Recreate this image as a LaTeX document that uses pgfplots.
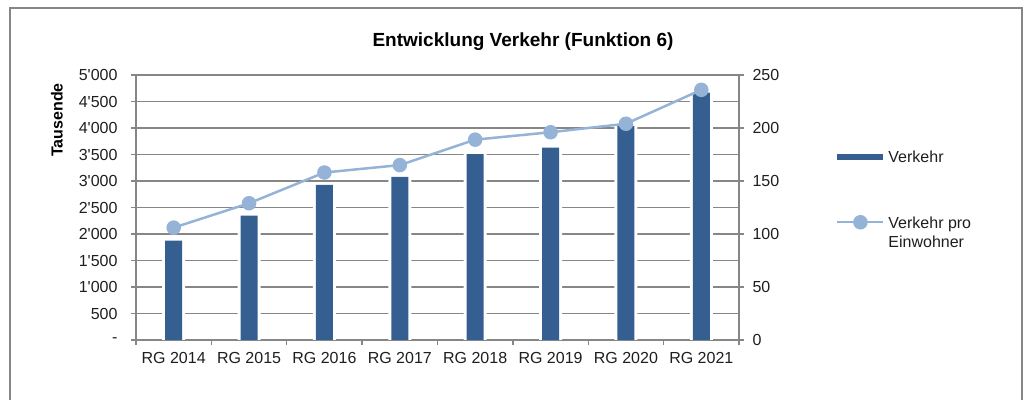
\documentclass[border=0pt]{standalone}
\usepackage{fontspec}
\setmainfont{Liberation Sans}
\usepackage{pgfplots}
\pgfplotsset{compat=1.18}
\definecolor{barblue}{RGB}{54,95,145}
\definecolor{lineblue}{RGB}{149,179,215}
\definecolor{gridgray}{RGB}{134,134,134}
\definecolor{textgray}{RGB}{30,30,30}
\def\q{\textquotesingle}
\pgfplotsset{
  layers/gridback/.define layer set={axis background,axis grid,main,axis ticks,axis lines,axis tick labels,axis descriptions,axis foreground}{},
  frame/.style={
    at={(136pt,60pt)}, anchor=south west,
    width=603pt, height=265pt, scale only axis,
    xmin=-0.5, xmax=7.5,
    tick align=outside, major tick length=5pt,
    axis line style={gridgray, line width=1.4pt},
    tick style={gridgray, line width=1.4pt},
    tick label style={font=\fontsize{16}{19}\selectfont, text=textgray},
    /pgf/number format/assume math mode=true,
    set layers=gridback,
    legend image code/.code={\draw[mark repeat=2,mark phase=2,##1] plot coordinates {(0pt,0pt)(23pt,0pt)(46pt,0pt)};},
  },
}

\begin{document}
\begin{tikzpicture}[x=1pt,y=1pt]
\draw[gridgray, line width=1.5pt] (10,0) -- (10,392) -- (1022,392) -- (1022,0);
\node[font=\fontsize{19}{22}\selectfont\bfseries, anchor=base] at (523,353) {Entwicklung Verkehr (Funktion 6)};
\node[font=\fontsize{16}{19}\selectfont\bfseries, rotate=90] at (57,280) {Tausende};

% Verkehr in Tausend
\begin{axis}[frame,
  ymin=0, ymax=5000,
  xtick={-0.5,0.5,...,7.5}, x tick label as interval,
  xticklabels={RG 2014,RG 2015,RG 2016,RG 2017,RG 2018,RG 2019,RG 2020,RG 2021},
  xticklabel style={yshift=-4pt},
  xtick pos=bottom, ytick pos=left,
  ytick={0,500,...,5000},
  yticklabels={-,500,1\q000,1\q500,2\q000,2\q500,3\q000,3\q500,4\q000,4\q500,5\q000},
  yticklabel style={xshift=-10pt},
  ymajorgrids, grid style={gridgray, line width=1.4pt},
]
% white gap beside the bars
\addplot[ybar, bar width=23pt, fill=white, draw=none] coordinates {
  (0,1875) (1,2345) (2,2925) (3,3080) (4,3505) (5,3630) (6,4040) (7,4665)
};
\addplot[ybar, bar width=17pt, fill=barblue, draw=none] coordinates {
  (0,1875) (1,2345) (2,2925) (3,3080) (4,3505) (5,3630) (6,4040) (7,4665)
};
\end{axis}

% Verkehr pro Einwohner
\begin{axis}[frame,
  ymin=0, ymax=250,
  axis x line=none, axis y line*=right,
  ytick={0,50,...,250},
  yticklabel style={xshift=5pt},
  legend style={at={(1.153,0.73)}, anchor=north west, draw=none, fill=none,
    font=\fontsize{16}{19}\selectfont, text=textgray, row sep=47pt},
  legend cell align=left,
]
\addlegendimage{barblue, line width=6pt}
\addplot[lineblue, line width=2.5pt, mark=*, mark size=6pt, mark options={fill=lineblue, draw=lineblue}] coordinates {
  (0,106) (1,129) (2,158) (3,165) (4,189) (5,196) (6,204) (7,236)
};
\legend{Verkehr, {\begin{tabular}[t]{@{}l@{}}Verkehr pro\\Einwohner\end{tabular}}}
\end{axis}
\useasboundingbox (0,0) rectangle (1031,400);
\end{tikzpicture}
\end{document}
